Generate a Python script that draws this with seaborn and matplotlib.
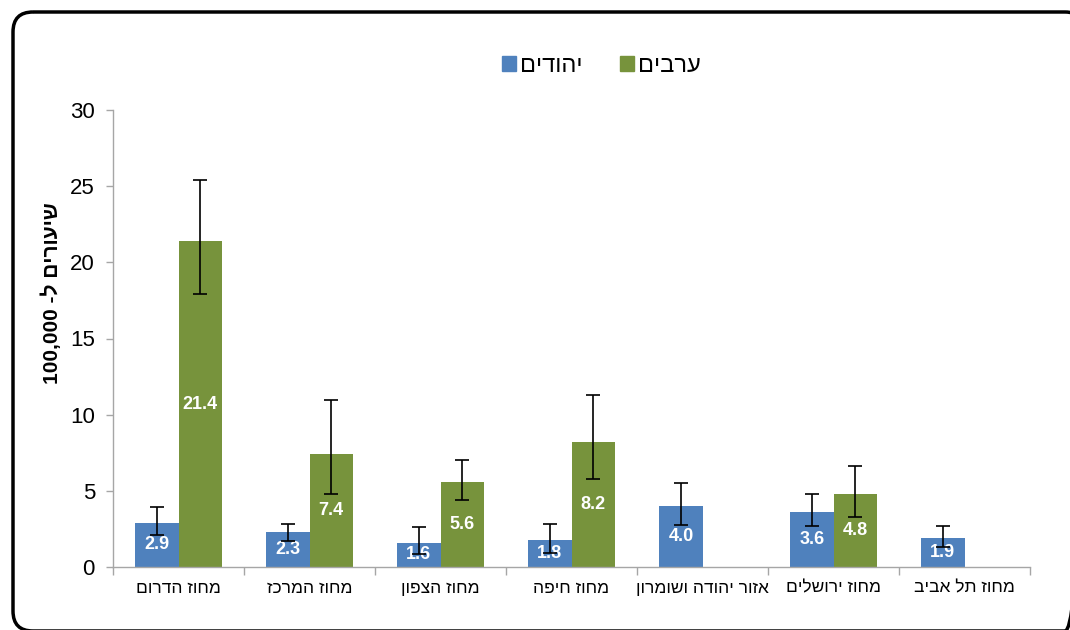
import numpy as np
import pandas as pd
import seaborn as sns
import matplotlib.pyplot as plt
from matplotlib.patches import FancyBboxPatch, Patch

# districts, left to right (logical Hebrew order)
districts = ['מחוז הדרום', 'מחוז המרכז', 'מחוז הצפון', 'מחוז חיפה',
             'אזור יהודה ושומרון', 'מחוז ירושלים', 'מחוז תל אביב']
groups = ['יהודים', 'ערבים']

jews = [2.9, 2.3, 1.6, 1.8, 4.0, 3.6, 1.9]
jews_lo = [2.1, 1.7, 0.85, 0.95, 2.75, 2.7, 1.3]
jews_hi = [3.95, 2.85, 2.6, 2.85, 5.5, 4.8, 2.7]

arabs = [21.4, 7.4, 5.6, 8.2, np.nan, 4.8, np.nan]
arabs_lo = [17.9, 4.8, 4.4, 5.8, np.nan, 3.3, np.nan]
arabs_hi = [25.4, 10.95, 7.05, 11.3, np.nan, 6.6, np.nan]

ylabel = 'שיעורים ל- 100,000'

colors = ['#4F81BD', '#77933C']


def vis(s):
    # matplotlib has no bidi, so put RTL text in visual order
    return s[::-1]


def vis_ylabel(s):
    words, num = s.rsplit(' ', 1)
    return num + ' ' + vis(words)


plt.rcParams['font.family'] = ['Liberation Sans', 'DejaVu Sans']

rows = []
for i, d in enumerate(districts):
    for g, vals in zip(groups, [jews, arabs]):
        if not np.isnan(vals[i]):
            rows.append({'district': vis(d), 'group': vis(g), 'value': vals[i]})
df = pd.DataFrame(rows)

fig = plt.figure(figsize=(10.7, 6.3), dpi=100)

bg = fig.add_axes([0, 0, 1, 1], zorder=-1)
bg.set_xlim(0, 1070)
bg.set_ylim(630, 0)
bg.axis('off')
bg.add_patch(FancyBboxPatch((13, 12), 1072, 619, boxstyle='round,pad=0,rounding_size=20',
                            fill=False, ec='black', lw=2.5, clip_on=False))

ax = fig.add_axes([113 / 1070, 1 - 567 / 630, (1030 - 113) / 1070, (567 - 110) / 630])
sns.barplot(data=df, x='district', y='value', hue='group',
            order=[vis(d) for d in districts], hue_order=[vis(g) for g in groups],
            palette=colors, width=0.66, gap=0, saturation=1, errorbar=None,
            edgecolor='none', legend=False, ax=ax)

lo_all = [jews_lo, arabs_lo]
hi_all = [jews_hi, arabs_hi]
vals_all = [jews, arabs]
bar_conts = list(ax.containers)
for k, cont in enumerate(bar_conts):
    ax.bar_label(cont, fmt='%.1f', label_type='center', color='white',
                 fontsize=13, fontweight='bold')
    for bar in cont:
        xc = bar.get_x() + bar.get_width() / 2
        i = int(round(xc))
        v = vals_all[k][i]
        ax.errorbar(xc, v, yerr=[[v - lo_all[k][i]], [hi_all[k][i] - v]],
                    fmt='none', ecolor='black', elinewidth=1.2, capsize=4.7,
                    capthick=1.2, zorder=5)

ax.set_xlim(-0.5, len(districts) - 0.5)
ax.set_ylim(0, 30)
ax.set_yticks(range(0, 31, 5))
ax.tick_params(axis='y', labelsize=16, length=5, width=1, color='#A6A6A6', pad=8)
ax.set_xticks(range(len(districts)))
ax.set_xticklabels([vis(d) for d in districts], fontsize=12.5)
ax.set_xticks(np.arange(-0.5, len(districts), 1), minor=True)
ax.tick_params(axis='x', which='major', length=0, pad=10)
ax.tick_params(axis='x', which='minor', length=6, width=1, color='#A6A6A6')
ax.set_xlabel('')
ax.set_ylabel(vis_ylabel(ylabel), fontsize=15, fontweight='bold')
ax.yaxis.set_label_coords(-0.056, 0.60)
for side in ['top', 'right']:
    ax.spines[side].set_visible(False)
for side in ['left', 'bottom']:
    ax.spines[side].set_color('#A6A6A6')
    ax.spines[side].set_linewidth(1)
ax.set_facecolor('none')

handles = [Patch(color=c) for c in colors]
fig.legend(handles, [vis(g) for g in groups], ncol=2, frameon=False,
           loc='center', bbox_to_anchor=(0.562, 0.895), fontsize=17,
           handlelength=0.6, handleheight=0.6, handletextpad=0.15, columnspacing=1.6)

fig.savefig('out.png', dpi=100)
